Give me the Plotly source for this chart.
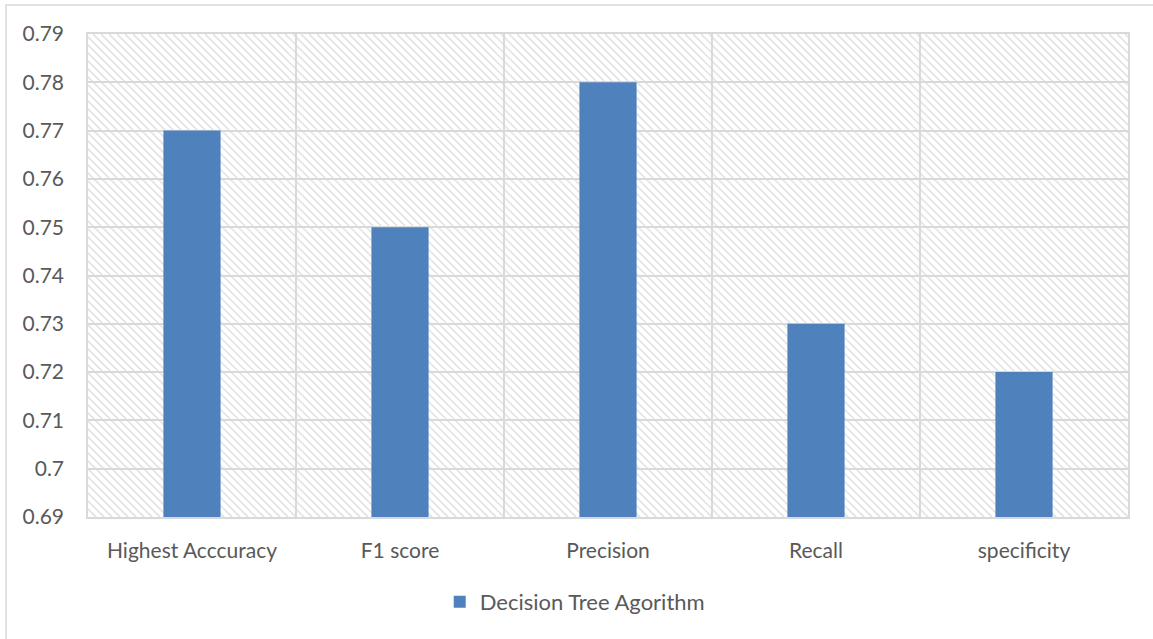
import plotly.graph_objects as go

categories = ["Highest Acccuracy", "F1 score", "Precision", "Recall", "specificity"]
values = [0.77, 0.75, 0.78, 0.73, 0.72]
series_name = "Decision Tree Agorithm"

W_FIG, H_FIG = 1153, 639
ML, MR, MT, MB = 88, 25, 34, 122
W = W_FIG - ML - MR
H = H_FIG - MT - MB

# diagonal hatch background for the plot area (decoration)
step = 8
parts = []
c = -H
while c < W:
    x0 = max(c, 0)
    x1 = min(c + H, W)
    if x1 > x0:
        y0 = x0 - c
        y1 = x1 - c
        parts.append(f"M{x0/W:.5f},{1 - y0/H:.5f} L{x1/W:.5f},{1 - y1/H:.5f}")
    c += step
hatch_path = " ".join(parts)

TXT = "#595959"
GRID = "#d9d9d9"
FONT = "Lato, Carlito, Calibri, sans-serif"
FS = 21

fig = go.Figure()
fig.add_trace(go.Bar(
    x=categories, y=values, name=series_name,
    marker=dict(color="#4f81bd", line=dict(width=0)),
    showlegend=True,
))

fig.update_layout(
    width=W_FIG, height=H_FIG,
    margin=dict(l=ML, r=MR, t=MT, b=MB),
    paper_bgcolor="white", plot_bgcolor="white",
    bargap=0.725,
    font=dict(family=FONT, color=TXT, size=FS),
    showlegend=True,
    legend=dict(orientation="h", x=0.468, xanchor="center", y=-0.176, yanchor="middle",
                font=dict(size=22, color=TXT), itemwidth=30),
    xaxis=dict(
        type="category", tickson="boundaries", showgrid=True, gridcolor=GRID, gridwidth=1.5,
        showline=True, linecolor=GRID, linewidth=1.5, mirror=True,
        ticks="", ticklabelstandoff=14, tickfont=dict(size=FS, color=TXT),
        range=[-0.5, 4.5],
    ),
    yaxis=dict(
        range=[0.69, 0.79], dtick=0.01, tick0=0.69,
        showgrid=True, gridcolor=GRID, gridwidth=1.5,
        showline=True, linecolor=GRID, linewidth=1.5, mirror=True,
        zeroline=False, ticks="", ticklabelstandoff=18,
        tickfont=dict(size=FS, color=TXT),
    ),
    shapes=[
        dict(type="path", xref="paper", yref="paper", path=hatch_path,
             line=dict(color="#e6e6e6", width=1.8), layer="below"),
        # outer chart border (top and left visible)
        dict(type="rect", xref="paper", yref="paper",
             x0=(6 - ML) / W, x1=(W_FIG + 20 - ML) / W,
             y0=-(H_FIG + 20 - H - MT) / H, y1=1 + (MT - 5) / H,
             line=dict(color=GRID, width=1.5), layer="below"),
    ],
)

fig.write_html("out.html", config={"displayModeBar": False},
               post_script="document.body.style.margin='0';document.body.style.padding='0';")
